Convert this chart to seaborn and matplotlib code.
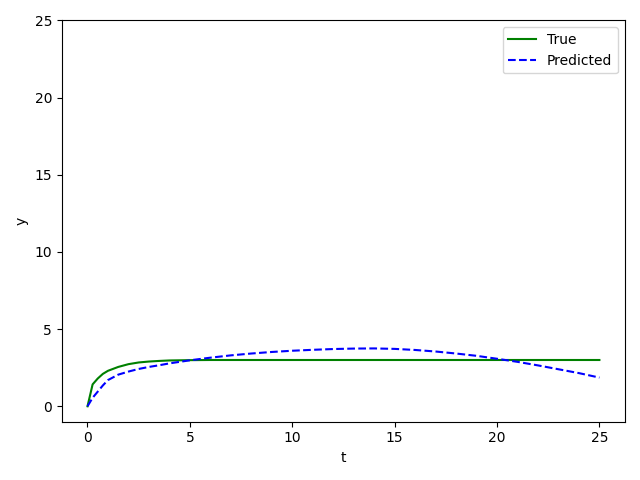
import matplotlib
matplotlib.use("Agg")
import matplotlib.pyplot as plt
import seaborn as sns

# time grid (finer near the start where the true curve rises fast)
t = [0, 0.25, 0.5, 0.75, 1, 1.5, 2, 2.5, 3, 3.5, 4, 5, 6, 7, 8, 9, 10,
     11, 12, 13, 14, 15, 16, 17, 18, 19, 20, 21, 22, 23, 24, 25]

y_true = [0, 1.42, 1.8, 2.1, 2.3, 2.55, 2.73, 2.84, 2.9, 2.94, 2.97, 2.99, 3.0, 3.0,
          3.0, 3.0, 3.0, 3.0, 3.0, 3.0, 3.0, 3.0, 3.0, 3.0, 3.0, 3.0, 3.0,
          3.0, 3.0, 3.0, 3.0, 3.0]

y_pred = [0, 0.55, 0.95, 1.35, 1.7, 2.05, 2.25, 2.42, 2.55, 2.66, 2.78, 2.98, 3.15,
          3.3, 3.42, 3.52, 3.6, 3.66, 3.71, 3.74, 3.75, 3.72, 3.65, 3.55,
          3.42, 3.27, 3.08, 2.88, 2.65, 2.4, 2.15, 1.86]

fig, ax = plt.subplots(figsize=(6.4, 4.8), dpi=100)
sns.lineplot(x=t, y=y_true, color="green", linestyle="-", label="True", ax=ax)
sns.lineplot(x=t, y=y_pred, color="blue", linestyle="--", label="Predicted", ax=ax)

ax.set_ylim(-1.0, 25)
ax.set_xlabel("t")
ax.set_ylabel("y")
ax.legend(loc="upper right")
plt.tight_layout()
plt.savefig("out.png")
